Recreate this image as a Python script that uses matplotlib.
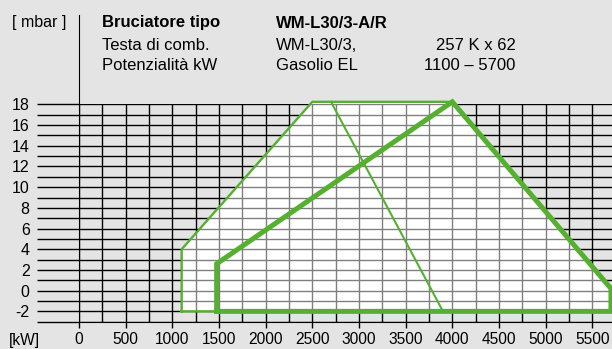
import matplotlib
matplotlib.use("Agg")
import matplotlib.pyplot as plt
from matplotlib.ticker import MultipleLocator, FuncFormatter

# burner working field (kW vs mbar)
envelope_kw = [1100, 1100, 2500, 4000, 5700, 5700, 1100]
envelope_mbar = [-2, 4, 18.25, 18.25, 0.2, -2, -2]
field_kw = [1475, 1475, 4000, 5700, 5700, 1475]
field_mbar = [-2, 2.6, 18.25, 0.2, -2, -2]
head_kw = [2700, 3900]
head_mbar = [18.25, -2]

x_ticks = list(range(0, 6000, 500))
y_ticks = list(range(-2, 20, 2))

header_rows = [
    ("Bruciatore tipo", "WM-L30/3-A/R", ""),
    ("Testa di comb.", "WM-L30/3,", "257 K x 62"),
    ("Potenzialità kW", "Gasolio EL", "1100 – 5700"),
]

BG = "#e4e4e4"
GREEN = "#55b02f"
W, H = 612, 349

plt.rcParams["font.family"] = ["Liberation Sans", "DejaVu Sans"]

fig = plt.figure(figsize=(W / 100, H / 100), dpi=100, facecolor=BG)
ax = fig.add_axes([79 / W, (H - 321.7) / H, (W - 79) / W, 217.3 / H])
ax.set_facecolor(BG)

ax.set_xlim(0, 5711)
ax.set_ylim(-3, 18)

ax.xaxis.set_major_locator(MultipleLocator(500))
ax.xaxis.set_minor_locator(MultipleLocator(250))
ax.yaxis.set_major_locator(MultipleLocator(2))
ax.yaxis.set_minor_locator(MultipleLocator(1))
ax.set_xticks(x_ticks)
ax.set_yticks(y_ticks)
ax.yaxis.set_major_formatter(FuncFormatter(lambda v, p: f"{int(v)}"))

ax.set_axisbelow(True)
ax.grid(which="both", color="black", linewidth=1.0)

ax.tick_params(axis="y", which="both", direction="out", length=30.5, width=1.0,
               color="black", pad=5.0, labelsize=11.5)
ax.tick_params(axis="x", which="major", direction="out", length=4.5, width=1.0,
               color="black", pad=3.0, labelsize=11.2)
ax.tick_params(axis="x", which="minor", length=0)

for side in ["top", "right"]:
    ax.spines[side].set_visible(False)
ax.spines["bottom"].set_color("black")
ax.spines["left"].set_color("black")
ax.spines["left"].set_bounds(-3, 26.6)

# white working area: opaque below the grid, half-transparent above it
ax.fill(envelope_kw, envelope_mbar, color="white", zorder=0.2, linewidth=0, clip_on=False)
ax.fill(envelope_kw, envelope_mbar, color="white", alpha=0.5, zorder=0.8, linewidth=0, clip_on=False)

ax.plot(envelope_kw, envelope_mbar, color=GREEN, linewidth=1.7, zorder=3, clip_on=False)
ax.plot(head_kw, head_mbar, color=GREEN, linewidth=1.5, zorder=3, clip_on=False)
ax.plot(field_kw, field_mbar, color=GREEN, linewidth=3.6, zorder=4, clip_on=False,
        solid_joinstyle="miter")

# header
fig.text(11.5 / W, 1 - 23 / H, "[ mbar ]", fontsize=11.5, va="center", ha="left")
fig.text(9 / W, 1 - 340 / H, "[kW]", fontsize=11.2, va="center", ha="left")
row_y = [23, 45, 65]
for (label, value, extra), y in zip(header_rows, row_y):
    bold = "bold" if y == row_y[0] else "normal"
    fig.text(102 / W, 1 - y / H, label, fontsize=12, weight=bold, va="center", ha="left")
    fig.text(276 / W, 1 - y / H, value, fontsize=12, weight=bold, va="center", ha="left")
    if extra:
        fig.text(515.5 / W, 1 - y / H, extra, fontsize=12, va="center", ha="right")

fig.savefig("out.png", dpi=100, facecolor=BG)
